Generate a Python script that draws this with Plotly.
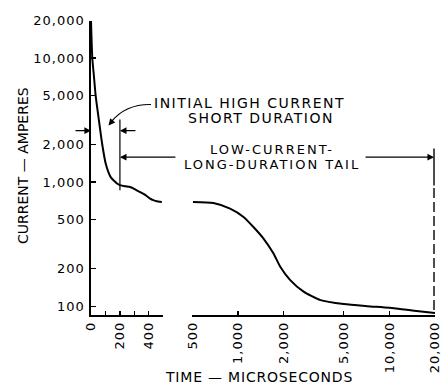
import math
import plotly.graph_objects as go

# ---------------- data ----------------
early_time_us = [0, 9, 20, 32, 55, 78, 102, 136, 165, 182, 205, 240, 270, 305, 340, 375, 409, 435, 455, 475, 490]
early_current_a = [20000, 10000, 7200, 5000, 3130, 2000, 1405, 1097, 1010, 970, 941, 925, 912, 875, 831, 790, 736, 712, 700, 694, 691]

late_time_us = [505, 689, 888, 1089, 1266, 1476, 1718, 1904, 2207, 2713, 3508, 5000, 7140, 10000, 14570, 20000]
late_current_a = [691, 678, 611, 524, 435, 351, 266, 208, 163, 131, 112, 104, 100, 97, 92, 88]

y_tickvals = [100, 200, 500, 1000, 2000, 5000, 10000, 20000]
y_ticktext = ["100", "200", "500", "1,000", "2,000", "5,000", "10,000", "20,000"]
x1_tickvals = [0, 100, 200, 300, 400, 500]
x1_ticktext = ["0", "", "200", "", "400", ""]
x2_tickvals = [500, 1000, 2000, 5000, 10000, 20000]
x2_ticktext = ["500", "1,000", "2,000", "5,000", "10,000", "20,000"]

# ---------------- layout helpers ----------------
W, H = 448, 390
FONT = "DejaVu Sans"


def PX(p):
    return p / W


def PY(p):
    return 1 - p / H


def spaced(s, sp="1px"):
    return f'<span style="letter-spacing:{sp}">{s}</span>'


fig = go.Figure()
fig.add_trace(go.Scatter(x=early_time_us, y=early_current_a, xaxis="x", yaxis="y",
                         mode="lines", line=dict(color="black", width=2, shape="spline", smoothing=0.6),
                         showlegend=False, hoverinfo="skip", cliponaxis=False))
fig.add_trace(go.Scatter(x=late_time_us, y=late_current_a, xaxis="x2", yaxis="y",
                         mode="lines", line=dict(color="black", width=2, shape="spline", smoothing=0.6),
                         showlegend=False, hoverinfo="skip", cliponaxis=False))

tickfont = dict(family=FONT, size=13, color="black")

fig.update_layout(
    width=W, height=H,
    margin=dict(l=0, r=0, t=0, b=0, autoexpand=False),
    paper_bgcolor="white", plot_bgcolor="white",
    showlegend=False,
    xaxis=dict(domain=[PX(91), PX(163.3)], range=[0, 500], anchor="y", automargin=False,
               tickmode="array", tickvals=x1_tickvals, ticktext=[spaced(t) for t in x1_ticktext],
               tickangle=-90, ticks="inside", ticklen=4, tickwidth=1.3, tickcolor="black",
               showline=True, linecolor="black", linewidth=1.6, showgrid=False, zeroline=False,
               tickfont=tickfont, fixedrange=True),
    xaxis2=dict(domain=[PX(192.3), PX(435)], type="log", automargin=False,
                range=[math.log10(500), math.log10(20000)], anchor="y",
                tickmode="array", tickvals=x2_tickvals, ticktext=[spaced(t) for t in x2_ticktext],
                tickangle=-90, ticks="inside", ticklen=4, tickwidth=1.3, tickcolor="black",
                showline=True, linecolor="black", linewidth=1.6, showgrid=False, zeroline=False,
                tickfont=tickfont, fixedrange=True),
    yaxis=dict(domain=[PY(315), PY(20.7)], type="log", automargin=False,
               range=[1.929, math.log10(20000)], anchor="x",
               tickmode="array", tickvals=y_tickvals, ticktext=[spaced(t) for t in y_ticktext],
               ticks="inside", ticklen=5, tickwidth=1.3, tickcolor="black",
               showline=True, linecolor="black", linewidth=1.6, showgrid=False, zeroline=False,
               tickfont=tickfont, ticklabelstandoff=2, fixedrange=True),
)

# ---------------- reference lines ----------------
fig.add_shape(type="line", xref="x", yref="y", x0=200, x1=200, y0=858, y1=3190,
              line=dict(color="black", width=1.2))
fig.add_shape(type="line", xref="x2", yref="y", x0=19700, x1=19700, y0=941, y1=1865,
              line=dict(color="black", width=1.4))
fig.add_shape(type="line", xref="x2", yref="y", x0=19700, x1=19700, y0=93, y1=941,
              line=dict(color="black", width=1.4, dash="10px,4px"))

# curved pointer
fig.add_shape(type="path", xref="paper", yref="paper",
              path=f"M {PX(151)},{PY(104.5)} Q {PX(126)},{PY(104)} {PX(111.5)},{PY(121.5)}",
              line=dict(color="black", width=1.2))

ann = []
arrow_kw = dict(showarrow=True, arrowhead=2, arrowsize=1.1, arrowwidth=1.2, arrowcolor="black",
                standoff=0, startstandoff=0, text="")
# curved pointer head
ann.append(dict(xref="paper", yref="paper", x=PX(108.5), y=PY(125.5), ax=5, ay=-6, **arrow_kw))
# short-duration bracket arrows
ann.append(dict(xref="x", yref="y", x=0, y=math.log10(2600), ax=-17, ay=0, **arrow_kw))
ann.append(dict(xref="x", yref="y", x=200, y=math.log10(2600), ax=17, ay=0, **arrow_kw))
# long-duration arrows
ann.append(dict(xref="x", yref="y", x=200, y=math.log10(1590), ax=57, ay=0, **arrow_kw))
ann.append(dict(xref="x2", yref="y", x=math.log10(19700), y=math.log10(1590), ax=-70, ay=0, **arrow_kw))

lab = dict(family=FONT, size=14, color="black")
lab13 = dict(family=FONT, size=13, color="black")
ann.append(dict(xref="paper", yref="paper", x=PX(152), y=PY(103.3), xanchor="left", yanchor="middle",
                text=spaced("INITIAL HIGH CURRENT", "1.5px"), showarrow=False, font=lab))
ann.append(dict(xref="paper", yref="paper", x=PX(186), y=PY(118.3), xanchor="left", yanchor="middle",
                text=spaced("SHORT DURATION", "1.5px"), showarrow=False, font=lab))
ann.append(dict(xref="paper", yref="paper", x=PX(272), y=PY(149), xanchor="center", yanchor="middle",
                text=spaced("LOW-CURRENT-", "2px"), showarrow=False, font=lab13))
ann.append(dict(xref="paper", yref="paper", x=PX(272), y=PY(164.5), xanchor="center", yanchor="middle",
                text=spaced("LONG-DURATION TAIL", "2px"), showarrow=False, font=lab13))

# axis titles
ann.append(dict(xref="paper", yref="paper", x=PX(23), y=PY(166), xanchor="center", yanchor="middle",
                text="CURRENT — AMPERES", textangle=-90, showarrow=False, font=lab))
ann.append(dict(xref="paper", yref="paper", x=PX(259), y=PY(377), xanchor="center", yanchor="middle",
                text=spaced("TIME — MICROSECONDS", "0.8px"), showarrow=False, font=lab))

fig.update_layout(annotations=ann)
fig.write_html("out.html", config={"displayModeBar": False, "staticPlot": True},
               post_script="document.body.style.margin='0';")
